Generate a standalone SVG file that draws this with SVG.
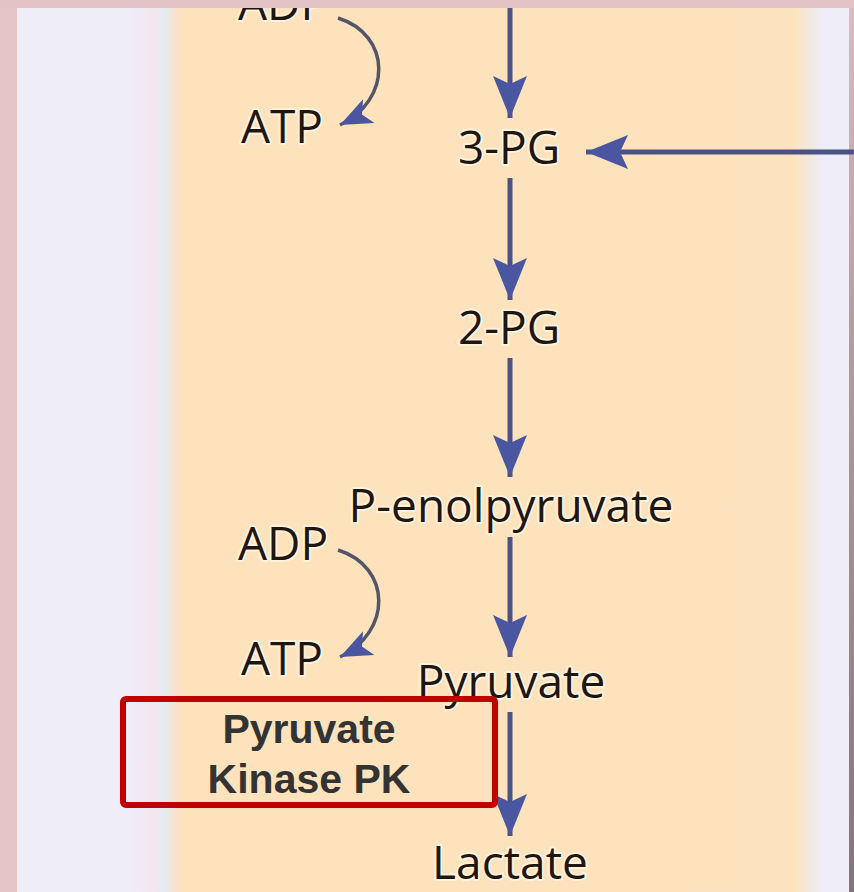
<svg xmlns="http://www.w3.org/2000/svg" width="854" height="892" viewBox="0 0 854 892">
  <defs>
    <linearGradient id="col" gradientUnits="userSpaceOnUse" x1="130" y1="0" x2="825" y2="0">
      <stop offset="0" stop-color="#eeedf8"/>
      <stop offset="0.03" stop-color="#f6e6ee"/>
      <stop offset="0.05" stop-color="#e4ebf2"/>
      <stop offset="0.065" stop-color="#f8e2cc"/>
      <stop offset="0.08" stop-color="#fde2bc"/>
      <stop offset="0.955" stop-color="#fde3bd"/>
      <stop offset="0.975" stop-color="#f2e8dc"/>
      <stop offset="1" stop-color="#eeedf8"/>
    </linearGradient>
    <linearGradient id="rstrip" x1="0" y1="0" x2="0" y2="1">
      <stop offset="0" stop-color="#dcbcbe"/>
      <stop offset="0.4" stop-color="#b49a9c"/>
      <stop offset="1" stop-color="#857477"/>
    </linearGradient>
    <marker id="ah" markerUnits="userSpaceOnUse" markerWidth="50" markerHeight="40" refX="0" refY="0" viewBox="-46 -20 50 40" orient="auto" overflow="visible">
      <path d="M0,0 L-42,-17 L-34,0 L-42,17 Z" fill="#4a57a0"/>
    </marker>
    <marker id="ahs" markerUnits="userSpaceOnUse" markerWidth="40" markerHeight="30" refX="0" refY="0" viewBox="-36 -16 40 32" orient="auto" overflow="visible">
      <path d="M0,0 L-34,-14 L-26,0 L-34,14 Z" fill="#4a57a0"/>
    </marker>
  </defs>
  <style>
    .lbl { font-family: "Open Sans", "Noto Sans", "DejaVu Sans", sans-serif; font-size: 46px; fill: #1f170f; text-anchor: middle; stroke: #fff1dc; stroke-width: 4; paint-order: stroke; stroke-linejoin: round; }
    .main { stroke: #4d5284; stroke-width: 5; fill: none; marker-end: url(#ah); }
    .curve { stroke: #55556a; stroke-width: 3.5; fill: none; marker-end: url(#ahs); }
    .pk { font-family: "Liberation Sans", Arial, sans-serif; font-weight: bold; font-size: 41px; fill: #333333; text-anchor: middle; }
  </style>

  <!-- background -->
  <rect x="0" y="0" width="854" height="892" fill="#e6c5c7"/>
  <rect x="849" y="0" width="5" height="892" fill="url(#rstrip)"/>
  <rect x="17" y="8" width="832" height="884" fill="#efedf8"/>
  <rect x="130" y="8" width="695" height="884" fill="url(#col)"/>

  <!-- connectors -->
  <g id="connectors">
    <line class="main" x1="510" y1="8" x2="510" y2="118"/>
    <line class="main" x1="854" y1="152" x2="586" y2="152"/>
    <line class="main" x1="510" y1="178" x2="510" y2="300"/>
    <line class="main" x1="510" y1="358" x2="510" y2="477"/>
    <line class="main" x1="510" y1="537" x2="510" y2="657"/>
    <line class="main" x1="510" y1="712" x2="510" y2="836"/>
    <path class="curve" d="M338,18 C392,35 392,100 340,125"/>
    <path class="curve" d="M338,550 C392,567 392,632 340,657"/>
  </g>

  <!-- nodes -->
  <g id="adp1"><text class="lbl" x="283" y="20">ADP</text></g>
  <g id="atp1"><text class="lbl" x="282" y="143">ATP</text></g>
  <g id="pg3"><text class="lbl" x="509" y="164">3-PG</text></g>
  <g id="pg2"><text class="lbl" x="509" y="344">2-PG</text></g>
  <g id="pep"><text class="lbl" x="511" y="522">P-enolpyruvate</text></g>
  <g id="adp2"><text class="lbl" x="283" y="560">ADP</text></g>
  <g id="atp2"><text class="lbl" x="282" y="675">ATP</text></g>
  <g id="pyruvate"><text class="lbl" x="511" y="698">Pyruvate</text></g>
  <g id="lactate"><text class="lbl" x="510" y="879">Lactate</text></g>

  <g id="pk-box">
    <rect x="123" y="699" width="372" height="106" rx="3" fill="none" stroke="#c00000" stroke-width="6"/>
    <text class="pk" x="309" y="743">Pyruvate</text>
    <text class="pk" x="309" y="793">Kinase PK</text>
  </g>

  <!-- top strip of the outer background, covering the cut-off label -->
  <rect x="0" y="0" width="854" height="8" fill="#e4c3c5"/>
</svg>
